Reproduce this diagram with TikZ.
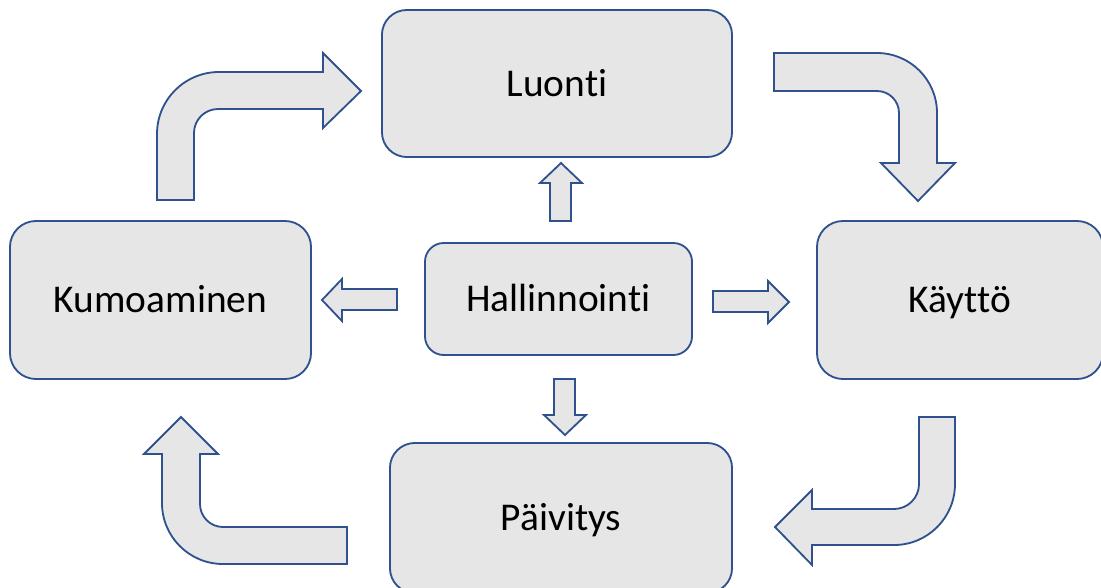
\documentclass[tikz,border=0pt]{standalone}
\usepackage{fontspec}
\setmainfont[Ligatures=NoCommon]{Carlito}
\usepackage{tikz}
\usetikzlibrary{shapes.geometric, arrows}
\usepackage{xcolor}
\definecolor{boxline}{RGB}{47,82,143}
\definecolor{boxfill}{RGB}{230,230,230}
\tikzstyle{phase} = [rectangle, draw=boxline, fill=boxfill, line width=1.3pt, text centered, text height=18pt, text depth=0pt, font=\fontsize{28}{34}\selectfont]
\tikzstyle{blockarrow} = [draw=boxline, fill=boxfill, line width=1.3pt, line join=miter]

\begin{document}
\begin{tikzpicture}[x=0.025cm, y=-0.025cm]
		\useasboundingbox (0,0) rectangle (1101,587);

		\node (luonti) [phase, minimum width=8.75cm, minimum height=3.675cm, rounded corners=0.62cm] at (557,83.5) {Luonti};
		\node (kumoaminen) [phase, minimum width=7.525cm, minimum height=3.95cm, rounded corners=0.65cm] at (160.5,300) {Kumoaminen};
		\node (kaytto) [phase, minimum width=7.15cm, minimum height=3.95cm, rounded corners=0.65cm] at (960,300) {Käyttö};
		\node (hallinnointi) [phase, minimum width=6.675cm, minimum height=2.8cm, rounded corners=0.47cm] at (558.5,299) {Hallinnointi};
		\node (paivitys) [phase, minimum width=8.55cm, minimum height=3.75cm, rounded corners=0.62cm] at (561,518) {Päivitys};

		% small arrows from the centre
		\draw[blockarrow] (550,221) -- (550,183) -- (540,183) -- (561,163) -- (582,183) -- (571,183) -- (571,221) -- cycle;
		\draw[blockarrow] (554,379) -- (554,415) -- (544,415) -- (565,435) -- (586,415) -- (575,415) -- (575,379) -- cycle;
		\draw[blockarrow] (397,289) -- (342,289) -- (342,279) -- (322,300) -- (342,321) -- (342,310) -- (397,310) -- cycle;
		\draw[blockarrow] (713,291) -- (768,291) -- (768,281) -- (789,302) -- (768,323) -- (768,312) -- (713,312) -- cycle;

		% bent arrows round the cycle
		\draw[blockarrow] (194,200) -- (157,200) -- (157,134) arc[start angle=180, end angle=90, radius=1.55cm] -- (323,72) -- (323,53) -- (361,91) -- (323,128) -- (323,109) -- (218,109) arc[start angle=90, end angle=180, radius=0.6cm] -- cycle;
		\draw[blockarrow] (774,53) -- (877,53) arc[start angle=90, end angle=0, radius=1.5cm] -- (937,163) -- (955,163) -- (918,201) -- (881,163) -- (899,163) -- (899,113) arc[start angle=0, end angle=90, radius=0.55cm] -- (774,91) -- cycle;
		\draw[blockarrow] (919,417) -- (955,417) -- (955,484) arc[start angle=0, end angle=-90, radius=1.525cm] -- (812,545) -- (812,565) -- (775,527) -- (812,490) -- (812,509) -- (894,509) arc[start angle=-90, end angle=0, radius=0.625cm] -- cycle;
		\draw[blockarrow] (347,527) -- (347,564) -- (223,564) arc[start angle=-90, end angle=-180, radius=1.525cm] -- (162,454) -- (144,454) -- (181,417) -- (218,454) -- (200,454) -- (200,504) arc[start angle=180, end angle=270, radius=0.575cm] -- cycle;
	\end{tikzpicture}
\end{document}
